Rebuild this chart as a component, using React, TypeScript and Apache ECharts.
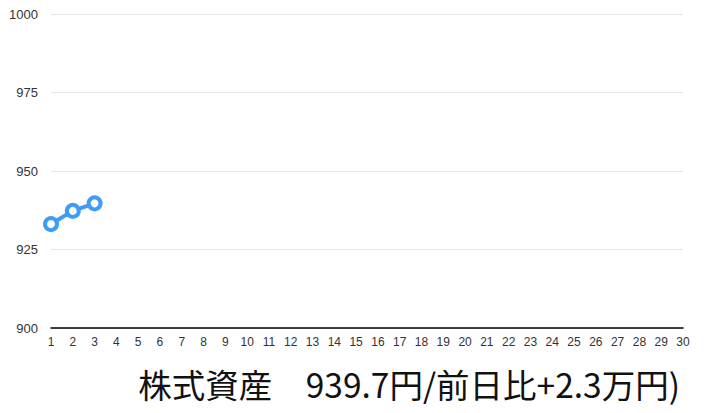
import React, { useEffect, useRef } from 'react';
import * as echarts from 'echarts';

const days = Array.from({ length: 30 }, (_, i) => String(i + 1));
const assetValues = [933.1, 937.3, 939.7];
const yTicks = { min: 900, max: 1000, step: 25 };
const titleText = '株式資産　939.7円/前日比+2.3万円)';

const App: React.FC = () => {
  const chartRef = useRef<HTMLDivElement>(null);

  useEffect(() => {
    const chart = echarts.init(chartRef.current!, null, { renderer: 'svg' });

    chart.setOption({
      animation: false,
      title: {
        text: titleText,
        right: 19,
        top: 362,
        textStyle: {
          fontSize: 33.5,
          fontWeight: 'normal',
          color: '#111',
          fontFamily: '"Noto Sans CJK JP", sans-serif',
        },
      },
      grid: { left: 51, right: 21, top: 14, bottom: 85 },
      xAxis: {
        type: 'category',
        data: days,
        boundaryGap: false,
        axisLine: { lineStyle: { color: '#000', width: 1.5 } },
        axisTick: { show: false },
        axisLabel: { color: '#333', fontSize: 12, margin: 8, interval: 0 },
      },
      yAxis: {
        type: 'value',
        min: yTicks.min,
        max: yTicks.max,
        interval: yTicks.step,
        axisLine: { show: false },
        axisTick: { show: false },
        axisLabel: {
          color: '#333',
          fontSize: 13,
          margin: 13,
          formatter: (v: number) => String(v),
        },
        splitLine: { lineStyle: { color: '#e6e6e6' } },
      },
      series: [
        {
          type: 'line',
          data: assetValues,
          symbol: 'circle',
          symbolSize: 12,
          lineStyle: { color: '#3d9df5', width: 4 },
          itemStyle: { color: '#fff', borderColor: '#3d9df5', borderWidth: 4 },
        },
      ],
    });

    return () => {
      chart.dispose();
    };
  }, []);

  return (
    <div
      ref={chartRef}
      style={{ position: 'absolute', left: 0, top: 0, width: '704px', height: '413px' }}
    />
  );
};

export default App;
